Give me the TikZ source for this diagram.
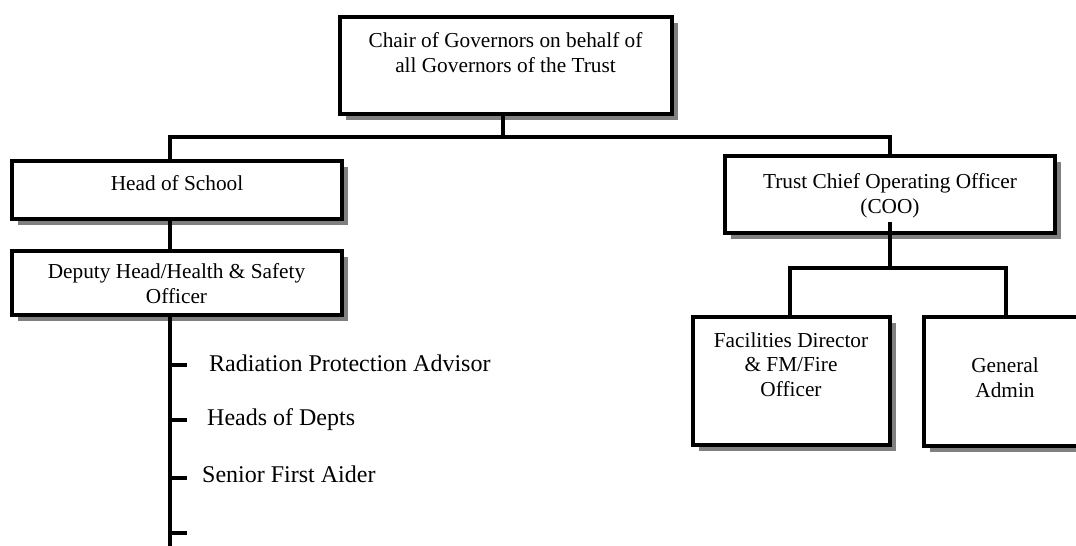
\documentclass[tikz,border=0pt]{standalone}
\usepackage{fontspec}
\setmainfont{Liberation Serif}
\usetikzlibrary{shadows}
\definecolor{shadowgray}{RGB}{128,128,128}
\tikzset{
  orgbox/.style={draw, line width=4pt, fill=white, inner sep=0pt,
    drop shadow={shadow xshift=6pt, shadow yshift=-6pt, fill=shadowgray, opacity=1}},
  boxtext/.style={anchor=base, align=center, inner sep=0pt, font=\fontsize{21.3}{24.5}\selectfont},
  listtext/.style={anchor=base west, inner sep=0pt, font=\fontsize{24}{28}\selectfont},
  conn/.style={line width=3.5pt},
}
\begin{document}
\begin{tikzpicture}[x=1pt,y=-1pt]
\path[use as bounding box, clip] (0,0) rectangle (1076,546);
% boxes
\node[orgbox, minimum width=332pt, minimum height=97pt] (chair) at (506,65.5) {};
\node[orgbox, minimum width=330pt, minimum height=58pt] (hos) at (177,190) {};
\node[orgbox, minimum width=330pt, minimum height=64pt] (dep) at (177,283) {};
\node[orgbox, minimum width=330pt, minimum height=77pt] (coo) at (890,194.5) {};
\node[orgbox, minimum width=197pt, minimum height=128pt] (fac) at (791.5,381) {};
\node[orgbox, minimum width=164pt, minimum height=129pt] (ga) at (1006,381.5) {};
% connectors
\coordinate (bus1) at (503,137);
\draw[conn] (chair.south -| bus1) -- (bus1);
\draw[conn] ([xshift=-7pt]hos.north) |- (bus1) -| (coo.north);
\draw[conn] ([xshift=-7pt,yshift=4pt]hos.south) -- ([xshift=-7pt]dep.north);
\coordinate (vend) at (170,546);
\draw[conn] ([xshift=-7pt]dep.south) -- (vend);
\coordinate (tk1) at (170,365);
\coordinate (tk2) at (170,420);
\coordinate (tk3) at (170,478);
\coordinate (tk4) at (170,533);
\foreach \t in {tk1,tk2,tk3,tk4} {\draw[conn] (\t) -- ++(17,0);}
\coordinate (bus2) at (890,268);
\draw[conn] ([yshift=13pt]coo.south) -- (bus2);
\draw[conn] ([xshift=-1.5pt]fac.north) |- (bus2) -| (ga.north);
% texts (base = baseline of last line)
\node[boxtext] (chairT) at (505.5,72) {Chair of Governors on behalf of\\all Governors of the Trust};
\node[boxtext] (hosT) at (177,190) {Head of School};
\node[boxtext] (depT) at (176.5,303) {Deputy Head/Health \& Safety\\Officer};
\node[boxtext] (cooT) at (890,213) {Trust Chief Operating Officer\\(COO)};
\node[boxtext] (facT) at (791,396) {Facilities Director\\\& FM/Fire\\Officer};
\node[boxtext] (gaT) at (1005,397) {General\\Admin};
\node[listtext] (rpa) at (209,371) {Radiation Protection Advisor};
\node[listtext] (hod) at (207,425) {Heads of Depts};
\node[listtext] (sfa) at (202,482) {Senior First Aider};
\end{tikzpicture}
\end{document}
